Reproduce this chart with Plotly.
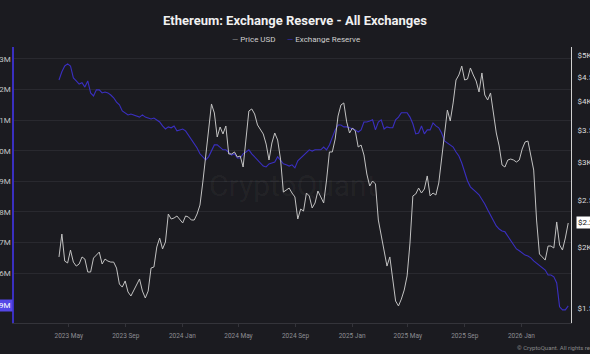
import plotly.graph_objects as go
import pandas as pd
import numpy as np

# ---------------- data ----------------
start_date = "2023-04-10"
end_date = "2026-04-12"
n_points = 178

price_usd = [1912, 2132, 1875, 1858, 1976, 1866, 1831, 1849, 1912, 1893,
             1780, 1780, 1902, 1930, 1957, 1849, 1893, 1875, 1866, 1866,
             1814, 1681, 1657, 1706, 1619, 1588, 1634, 1673, 1722, 1626,
             1573, 1626, 1814, 1823, 2005, 2092, 1986, 2053, 2345, 2290,
             2301, 2323, 2290, 2247, 2323, 2312, 2279, 2279, 2345, 2447,
             2730, 3104, 3463, 3956, 3790, 3381, 3546, 3430, 3563, 3119,
             3119, 3149, 3075, 3089, 2932, 3413, 3826, 3863, 3772, 3580,
             3513, 3430, 3270, 3031, 3286, 3446, 3333, 3045, 2603, 2628,
             2653, 2591, 2543, 2290, 2401, 2378, 2591, 2555, 2413, 2471,
             2616, 2543, 2471, 2756, 3149, 3149, 3349, 3736, 3937, 3975,
             3632, 3446, 3530, 3479, 3224, 3255, 3104, 2836, 2679, 2743,
             2705, 2279, 2112, 1948, 1831, 1912, 1706, 1551, 1515, 1565,
             1634, 1747, 2043, 2555, 2579, 2653, 2591, 2641, 2810, 2555,
             2591, 2567, 2717, 3060, 3496, 3844, 3649, 3975, 4433, 4540,
             4737, 4433, 4454, 4694, 4540, 4412, 4188, 4584, 4128, 4031,
             4168, 3754, 3446, 3240, 2960, 2932, 3031, 3045, 3031, 3002,
             3031, 3194, 3302, 3317, 3075, 2890, 2279, 1939, 1912, 1884,
             2014, 2014, 1995, 2258, 2024, 1976, 2092, 2247]

reserve_m = [22.31, 22.58, 22.77, 22.84, 22.77, 22.38, 22.28, 22.18, 22.22, 22.08,
             22.28, 21.89, 21.79, 21.99, 21.99, 21.89, 21.92, 21.89, 21.82, 21.73,
             21.59, 21.50, 21.30, 21.24, 21.17, 21.20, 21.17, 21.14, 21.10, 21.17,
             21.10, 21.07, 21.04, 21.07, 21.01, 20.94, 20.81, 20.71, 20.78, 20.75,
             20.81, 20.65, 20.68, 20.71, 20.65, 20.52, 20.35, 20.22, 20.09, 19.90,
             19.80, 19.70, 19.80, 19.99, 20.19, 20.19, 20.12, 20.03, 20.03, 19.96,
             19.86, 19.90, 19.76, 19.76, 19.90, 19.96, 20.03, 19.90, 19.80, 19.70,
             19.63, 19.50, 19.47, 19.57, 19.60, 19.63, 19.80, 19.70, 19.57, 19.54,
             19.50, 19.54, 19.44, 19.67, 19.76, 19.86, 19.96, 20.03, 19.99, 20.03,
             20.03, 20.03, 20.12, 20.03, 20.19, 20.42, 20.68, 20.84, 20.84, 20.78,
             20.78, 20.75, 20.71, 20.68, 20.61, 20.68, 20.94, 20.94, 20.97, 21.01,
             20.68, 20.94, 21.01, 20.71, 20.78, 20.75, 20.75, 21.01, 21.10, 21.24,
             21.24, 21.24, 21.10, 20.88, 20.55, 20.58, 20.81, 20.55, 20.68, 20.68,
             20.91, 20.81, 20.75, 20.58, 20.32, 20.25, 20.16, 20.12, 19.96, 19.83,
             19.60, 19.31, 19.01, 18.82, 18.72, 18.65, 18.56, 18.42, 18.26, 18.07,
             17.90, 17.71, 17.54, 17.44, 17.38, 17.35, 17.22, 17.05, 16.92, 16.79,
             16.73, 16.66, 16.59, 16.56, 16.50, 16.40, 16.33, 16.27, 16.17, 16.10,
             15.94, 15.94, 15.88, 15.68, 14.90, 14.80, 14.80, 14.93]

dates = pd.date_range(start_date, end_date, periods=n_points)

reserve_ticks = [16, 17, 18, 19, 20, 21, 22, 23]
reserve_tick_labels = ["16M", "17M", "18M", "19M", "20M", "21M", "22M", "23M"]
price_ticks = [1500, 2000, 2500, 3000, 3500, 4000, 4500, 5000]
price_tick_labels = ["$1.5K", "$2K", "$2.5K", "$3K", "$3.5K", "$4K", "$4.5K", "$5K"]
x_ticks = pd.date_range("2023-05-01", "2026-01-01", freq="4MS")

# ---------------- style ----------------
BG = "#1b1b20"
BLUE = "#3a2fc0"
GREY = "#c2c2c2"
FONT = "Roboto"
W, H = 590, 354
L, R, T, B = 14, 19, 47, 31
PW, PH = W - L - R, H - T - B


def px_x(x):
    return (x - L) / PW


def px_y(y):
    return (H - B - y) / PH


fig = go.Figure()
fig.add_trace(go.Scatter(x=dates, y=reserve_m, name="Exchange Reserve", yaxis="y",
                         mode="lines", line=dict(color=BLUE, width=1.1), hoverinfo="skip"))
fig.add_trace(go.Scatter(x=dates, y=price_usd, name="Price USD", yaxis="y2",
                         mode="lines", line=dict(color=GREY, width=1), hoverinfo="skip"))

annotations = [
    # watermark
    dict(text="CryptoQuant", xref="paper", yref="paper", x=0.5, y=0.5, showarrow=False,
         font=dict(family=FONT, size=30, color="rgba(255,255,255,0.045)")),
    # legend
    dict(text='<span style="color:#8c8c8c">—</span> Price USD', xref="paper", yref="paper",
         x=px_x(230), y=px_y(39.5), xanchor="left", yanchor="middle", showarrow=False,
         font=dict(family=FONT, size=8, color="#cfcfcf")),
    dict(text=f'<span style="color:{BLUE}">—</span> Exchange Reserve', xref="paper", yref="paper",
         x=px_x(285), y=px_y(39.5), xanchor="left", yanchor="middle", showarrow=False,
         font=dict(family=FONT, size=8, color="#cfcfcf")),
    # last value labels
    dict(text=f"{reserve_m[-1]:.1f}M", xref="paper", yref="y", x=0, y=reserve_m[-1],
         xanchor="right", yanchor="middle", xshift=-1, showarrow=False, bgcolor="#5547e6",
         borderpad=1, font=dict(family=FONT, size=8, color="#ffffff")),
    dict(text=f"${price_usd[-1]/1000:.2f}K", xref="paper", yref="y2", x=1, y=np.log10(price_usd[-1]),
         xanchor="left", yanchor="middle", xshift=5, showarrow=False, bgcolor="#ffffff",
         borderpad=1, font=dict(family=FONT, size=8, color="#111111")),
    # footer
    dict(text="© CryptoQuant. All rights reserved.", xref="paper", yref="paper",
         x=px_x(515), y=px_y(347.5), xanchor="left", yanchor="middle", showarrow=False,
         font=dict(family=FONT, size=6, color="#8a8a8a")),
]

fig.update_layout(
    width=W, height=H,
    paper_bgcolor=BG, plot_bgcolor=BG,
    margin=dict(l=L, r=R, t=T, b=B),
    showlegend=False,
    title=dict(text="<b>Ethereum: Exchange Reserve - All Exchanges</b>", x=0.5, xanchor="center",
               y=1 - 20 / H, yanchor="middle", yref="container",
               font=dict(family=FONT, size=13, color="#f0f0f0")),
    xaxis=dict(range=["2023-01-03", "2026-04-18"], tickvals=x_ticks, tickformat="%Y %b",
               tickfont=dict(family=FONT, size=6.5, color="#8d8d93"), showgrid=False,
               showline=True, linecolor="#34343a", linewidth=1, ticks="outside", ticklen=3,
               tickcolor="#34343a", zeroline=False, automargin=False, ticklabelstandoff=3),
    yaxis=dict(range=[14.37, 23.39], tickvals=reserve_ticks, ticktext=reserve_tick_labels,
               gridcolor="#29292f", gridwidth=1, showline=True, linecolor=BLUE, linewidth=1.5,
               tickfont=dict(family=FONT, size=8, color="#c4c4c4"), zeroline=False,
               automargin=False, ticks=""),
    yaxis2=dict(type="log", range=[np.log10(1397), np.log10(5186)], overlaying="y", side="right",
                tickvals=price_ticks, ticktext=price_tick_labels, showgrid=False,
                showline=True, linecolor="#d0d0d0", linewidth=1,
                tickfont=dict(family=FONT, size=8, color="#dcdcdc"), zeroline=False,
                automargin=False, ticks="", ticklabelstandoff=4),
    annotations=annotations,
)

fig.write_html("out.html")
